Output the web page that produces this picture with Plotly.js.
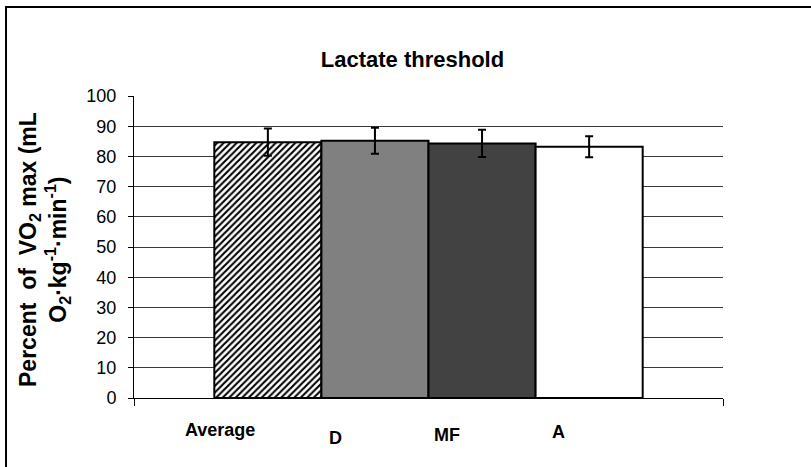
<!DOCTYPE html>
<html>
<head>
<meta charset="utf-8">
<script src="https://cdn.plot.ly/plotly-3.0.1.min.js"></script>
<style>
  html, body { margin: 0; padding: 0; background: #fff; }
  #chart { width: 811px; height: 467px; }
</style>
</head>
<body>
<div id="chart"></div>
<script>
// ---- data ----
const categories = ["Average", "D", "MF", "A"];
const values = [84.7, 85.2, 84.3, 83.2];
const errors = [4.5, 4.3, 4.5, 3.5];
const yTicks = [0, 10, 20, 30, 40, 50, 60, 70, 80, 90, 100];

// ---- styles (kept apart from the data) ----
const fills = ["#ffffff", "#808080", "#424242", "#ffffff"];
const patterns = ["/", "", "", ""];
// label placement in paper coordinates (labels are offset from bars in the original)
const labelPos = [
  { x: 0.1452, y: -0.106 },
  { x: 0.3413, y: -0.134 },
  { x: 0.5314, y: -0.124 },
  { x: 0.7207, y: -0.114 }
];

const FONT = 'Arial, "Liberation Sans", sans-serif';

const traces = categories.map((c, i) => ({
  type: "bar",
  name: c,
  x: ["Lactate threshold"],
  y: [values[i]],
  error_y: { type: "data", array: [errors[i]], visible: true, color: "#000", thickness: 2, width: 4 },
  marker: {
    color: fills[i],
    line: { color: "#000", width: 2 },
    pattern: patterns[i] ? { shape: patterns[i], fgcolor: "#000", bgcolor: "#fff", size: 4.6, solidity: 0.45 } : { shape: "" }
  },
  hovertemplate: c + ": %{y}<extra></extra>"
}));

const annotations = categories.map((c, i) => ({
  text: c,
  xref: "paper", yref: "paper",
  x: labelPos[i].x, y: labelPos[i].y,
  xanchor: "center", yanchor: "middle",
  showarrow: false,
  font: { family: FONT, size: 18, color: "#000", weight: "bold" }
}));

annotations.push({
  text: "Percent\u00a0\u00a0of\u00a0\u00a0VO<sub>2</sub> max (mL<br>O<sub>2</sub>·kg<sup>-1</sup>·min<sup>-1</sup>)",
  xref: "paper", yref: "paper",
  x: -0.152, y: 0.4917,
  xanchor: "center", yanchor: "middle",
  textangle: -90,
  showarrow: false,
  font: { family: FONT, size: 23, color: "#000", weight: "bold" }
});

const layout = {
  width: 811, height: 467,
  margin: { l: 134, r: 88, t: 96, b: 69, pad: 0 },
  paper_bgcolor: "#fff", plot_bgcolor: "#fff",
  showlegend: false,
  barmode: "group",
  bargap: 0.2727,
  bargroupgap: 0,
  title: {
    text: "Lactate threshold",
    xref: "container", yref: "container",
    x: 0.5086, y: 0.8737, xanchor: "center", yanchor: "middle",
    font: { family: FONT, size: 22, color: "#000", weight: "bold" }
  },
  xaxis: {
    type: "category",
    showline: true, linecolor: "#000", linewidth: 1,
    ticks: "outside", tickson: "boundaries", ticklen: 7, tickcolor: "#000", tickwidth: 1,
    showticklabels: false,
    showgrid: false, zeroline: false,
    fixedrange: true
  },
  yaxis: {
    range: [0, 100],
    tickvals: yTicks,
    showline: true, linecolor: "#000", linewidth: 1,
    ticks: "outside", ticklen: 5, tickcolor: "#000", tickwidth: 1,
    ticklabelstandoff: 8,
    showgrid: true, gridcolor: "#3a3a3a", gridwidth: 1,
    zeroline: false,
    tickfont: { family: FONT, size: 18, color: "#000" },
    fixedrange: true
  },
  annotations: annotations,
  shapes: [
    { type: "line", xref: "paper", yref: "paper", x0: -0.2173, x1: -0.2173, y0: 1.2947, y1: -0.24, line: { color: "#000", width: 2 } },
    { type: "line", xref: "paper", yref: "paper", x0: -0.2190, x1: 1.16, y0: 1.2947, y1: 1.2947, line: { color: "#000", width: 2 } }
  ]
};

Plotly.newPlot("chart", traces, layout, { displayModeBar: false, staticPlot: true });
</script>
</body>
</html>
